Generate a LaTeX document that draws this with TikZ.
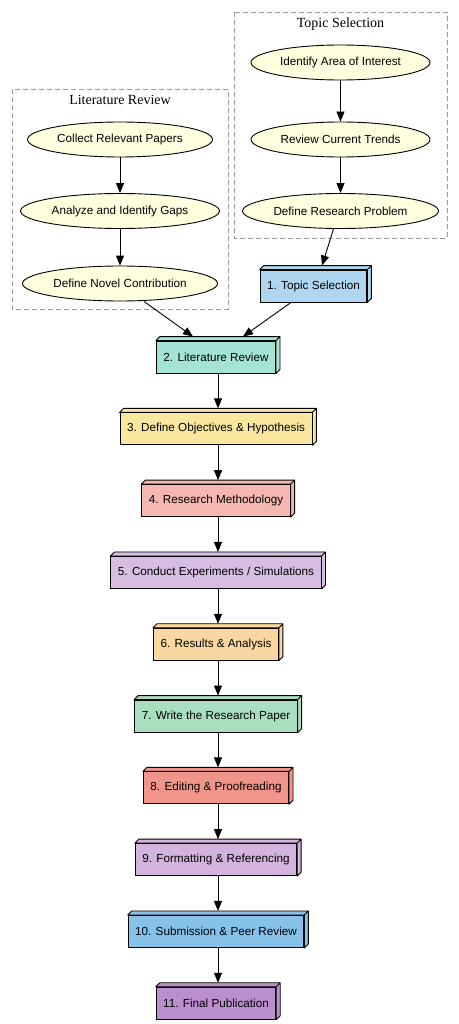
\documentclass[tikz,border=0pt]{standalone}
\usepackage{fontspec}
\setmainfont{Liberation Serif}
\newfontfamily\arialf{Liberation Sans}
\usetikzlibrary{arrows.meta,shapes.geometric}
\definecolor{c1}{HTML}{AED6F1}
\definecolor{c2}{HTML}{A3E4D7}
\definecolor{c3}{HTML}{F9E79F}
\definecolor{c4}{HTML}{F5B7B1}
\definecolor{c5}{HTML}{D7BDE2}
\definecolor{c6}{HTML}{FAD7A0}
\definecolor{c7}{HTML}{A9DFBF}
\definecolor{c8}{HTML}{F1948A}
\definecolor{c9}{HTML}{D2B4DE}
\definecolor{c10}{HTML}{85C1E9}
\definecolor{c11}{HTML}{BB8FCE}
\definecolor{ellfill}{HTML}{FFFFE0}
\definecolor{clgray}{HTML}{999999}
\begin{document}
\begin{tikzpicture}[x=1pt,y=-1pt,
  every node/.style={font=\arialf\fontsize{11.7}{14}\selectfont},
  ell/.style={ellipse, draw, fill=ellfill, inner sep=0pt, line width=0.9pt, minimum height=35pt},
  bx/.style={draw, fill=#1, rectangle, minimum height=32pt, inner xsep=7pt, line width=0.9pt,
    append after command={\pgfextra{\draw[fill=#1, line width=0.9pt, line join=round]
      (\tikzlastnode.north west) -- ++(4pt,4pt) -- ([shift={(4pt,4pt)}]\tikzlastnode.north east)
      -- ([shift={(4pt,4pt)}]\tikzlastnode.south east) -- (\tikzlastnode.south east)
      -- (\tikzlastnode.north east) -- cycle
      (\tikzlastnode.north east) -- ++(4pt,4pt);}}},
  arr/.style={-{Triangle[length=10pt,width=8pt]}, line width=0.9pt},
  cl/.style={draw=clgray, dash pattern=on 5pt off 3pt, line width=0.8pt},
  cllabel/.style={font=\rmfamily\fontsize{14}{16}\selectfont}
]
\useasboundingbox (0,0) rectangle (458,1024);
% clusters
\draw[cl] (12,89) rectangle (228,309);
\draw[cl] (234,12) rectangle (447,238);
\node[cllabel] (lrlab) at (120,100) {Literature Review};
\node[cllabel] (tslab) at (340.5,24) {Topic Selection};
% ellipses
\node[ell, minimum width=185pt] (crp) at (120,139.5) {Collect Relevant Papers};
\node[ell, minimum width=199pt] (aig) at (120,211) {Analyze and Identify Gaps};
\node[ell, minimum width=195pt] (dnc) at (120,283.5) {Define Novel Contribution};
\node[ell, minimum width=179pt] (iai) at (340.5,62.5) {Identify Area of Interest};
\node[ell, minimum width=179pt] (rct) at (340.5,139.5) {Review Current Trends};
\node[ell, minimum width=196pt] (drp) at (340.5,211) {Define Research Problem};
% boxes
\node[bx=c1] (b1) at (313.5,286) {1. Topic Selection};
\node[bx=c2] (b2) at (216,357) {2. Literature Review};
\node[bx=c3] (b3) at (216,428.8) {3. Define Objectives \& Hypothesis};
\node[bx=c4] (b4) at (216,500.6) {4. Research Methodology};
\node[bx=c5] (b5) at (216,572.4) {5. Conduct Experiments / Simulations};
\node[bx=c6] (b6) at (216,644.2) {6. Results \& Analysis};
\node[bx=c7] (b7) at (216,716) {7. Write the Research Paper};
\node[bx=c8] (b8) at (216,787.8) {8. Editing \& Proofreading};
\node[bx=c9] (b9) at (216,859.6) {9. Formatting \& Referencing};
\node[bx=c10] (b10) at (216,931.4) {10. Submission \& Peer Review};
\node[bx=c11] (b11) at (216,1003.2) {11. Final Publication};
% arrows
\draw[arr] (iai) -- (rct);
\draw[arr] (rct) -- (drp);
\draw[arr] (crp) -- (aig);
\draw[arr] (aig) -- (dnc);
\draw[arr] ([xshift=-7pt]drp.south) -- ([xshift=8.5pt,yshift=4pt]b1.north);
\draw[arr] ([xshift=24pt]dnc.south) -- ([xshift=-23pt,yshift=4pt]b2.north);
\draw[arr] ([xshift=-22.5pt]b1.south) -- ([xshift=27pt,yshift=4pt]b2.north);
\foreach \a/\b in {b2/b3,b3/b4,b4/b5,b5/b6,b6/b7,b7/b8,b8/b9,b9/b10,b10/b11}
  \draw[arr] ([xshift=2pt]\a.south) -- ([xshift=2pt,yshift=4pt]\b.north);
\end{tikzpicture}
\end{document}
